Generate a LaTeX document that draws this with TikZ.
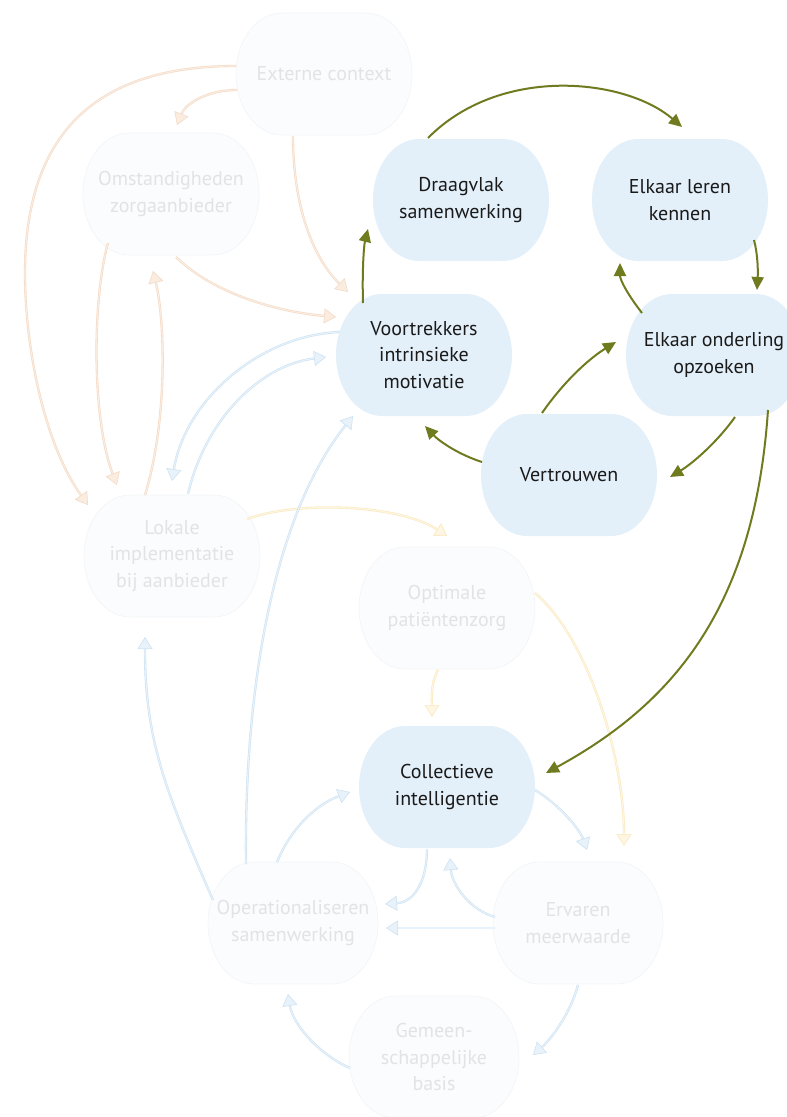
\documentclass[tikz,border=0pt]{standalone}
\usepackage{fontspec}
\setmainfont{PT Sans}
\usetikzlibrary{arrows.meta,calc}
\definecolor{grn}{RGB}{112,122,30}
\definecolor{nfill}{RGB}{227,240,249}
\definecolor{ntext}{RGB}{26,26,26}
\definecolor{ffill}{RGB}{251,252,254}
\definecolor{fdraw}{RGB}{241,244,248}
\definecolor{ftext}{RGB}{226,227,230}
\definecolor{oraO}{RGB}{243,218,198}
\definecolor{oraI}{RGB}{251,236,224}
\definecolor{bluO}{RGB}{205,226,242}
\definecolor{bluI}{RGB}{232,242,250}
\definecolor{yelO}{RGB}{250,232,190}
\definecolor{yelI}{RGB}{254,246,226}
\tikzset{
  box/.style={minimum width=176pt, minimum height=122pt,
    align=center, inner sep=0pt, font=\fontsize{20}{26.5}\selectfont},
  mainbox/.style={box, text=ntext},
  fadebox/.style={box, text=ftext},
  mainblob/.style={fill=nfill},
  fadeblob/.style={fill=ffill, draw=fdraw, line width=0.6pt},
  garr/.style={draw=grn, line width=2pt, -{Triangle[length=13pt,width=12pt]}},
  farr/.style={line width=0.6pt, double distance=1.1pt},
  oarr/.style={farr, draw=oraO, double=oraI, -{Triangle[length=12pt,width=15pt,fill=oraI]}},
  barr/.style={farr, draw=bluO, double=bluI, -{Triangle[length=12pt,width=15pt,fill=bluI]}},
  yarr/.style={farr, draw=yelO, double=yelI, -{Triangle[length=12pt,width=15pt,fill=yelI]}},
}
% rounded blob with elliptical corners: style, centre, half width
\newcommand\mkblob[3]{\path[#1] (#2) ++(-#3,0)
  arc[start angle=180,end angle=90,x radius=46,y radius=61] -- ++({2*#3-92},0)
  arc[start angle=90,end angle=0,x radius=46,y radius=61]
  arc[start angle=0,end angle=-90,x radius=46,y radius=61] -- ++({92-2*#3},0)
  arc[start angle=-90,end angle=-180,x radius=46,y radius=61] -- cycle;}
\begin{document}
\begin{tikzpicture}[x=1pt,y=-1pt]
\useasboundingbox (0,0) rectangle (787,1117);
% centres
\coordinate (cext) at (324,74);
\coordinate (coms) at (171,194);
\coordinate (clok) at (172,556);
\coordinate (copt) at (447,608);
\coordinate (cope) at (293,923);
\coordinate (cerv) at (578,923);
\coordinate (cgem) at (434,1057);
\coordinate (cdra) at (461,200);
\coordinate (celk) at (680,200);
\coordinate (cvoo) at (424,355);
\coordinate (cond) at (714,355);
\coordinate (cver) at (569,475);
\coordinate (ccol) at (447,787);
% shapes
\mkblob{fadeblob}{cext}{88}
\mkblob{fadeblob}{coms}{88}
\mkblob{fadeblob}{clok}{88}
\mkblob{fadeblob}{copt}{88}
\mkblob{fadeblob}{cope}{85}
\mkblob{fadeblob}{cerv}{85}
\mkblob{fadeblob}{cgem}{85}
\mkblob{mainblob}{cdra}{88}
\mkblob{mainblob}{celk}{88}
\mkblob{mainblob}{cvoo}{88}
\mkblob{mainblob}{cond}{88}
\mkblob{mainblob}{cver}{88}
\mkblob{mainblob}{ccol}{88}
% faded nodes
\node[fadebox] (ext) at (cext) {Externe context};
\node[fadebox] (oms) at (coms) {Omstandigheden\\zorgaanbieder};
\node[fadebox] (lok) at (clok) {Lokale\\implementatie\\bij aanbieder};
\node[fadebox] (opt) at (copt) {Optimale\\patiëntenzorg};
\node[fadebox, minimum width=170pt] (ope) at (cope) {Operationaliseren\\samenwerking};
\node[fadebox, minimum width=170pt] (erv) at (cerv) {Ervaren\\meerwaarde};
\node[fadebox, minimum width=170pt] (gem) at (cgem) {Gemeen-\\schappelijke\\basis};
% main nodes
\node[mainbox] (dra) at (cdra) {Draagvlak\\samenwerking};
\node[mainbox] (elk) at (celk) {Elkaar leren\\kennen};
\node[mainbox] (voo) at (cvoo) {Voortrekkers\\intrinsieke\\motivatie};
\node[mainbox] (ond) at (cond) {Elkaar onderling\\opzoeken};
\node[mainbox] (ver) at (cver) {Vertrouwen};
\node[mainbox] (col) at (ccol) {Collectieve\\intelligentie};

% orange faded connectors
\draw[oarr] ($(ext)+(-87,16)$) .. controls (205,90) and (185,105) .. ($(oms)+(6,-69)$);
\draw[oarr] ($(ext)+(-88,-8)$) .. controls (110,66) and (25,120) .. (25,273)
  .. controls (25,350) and (45,445) .. ($(lok)+(-84,-51)$);
\draw[oarr] ($(ext)+(-31,62)$) .. controls (293,200) and (310,255) .. ($(voo)+(-76,-63)$);
\draw[oarr] ($(oms)+(5,63)$) .. controls (215,295) and (280,312) .. ($(voo)+(-88,-38)$);
\draw[oarr] ($(oms)+(-63,49)$) .. controls (92,300) and (92,420) .. ($(lok)+(-55,-71)$);
\draw[oarr] ($(lok)+(-27,-61)$) .. controls (168,420) and (165,320) .. ($(oms)+(-18,77)$);

% yellow faded connectors
\draw[yarr] ($(lok)+(75,-37)$) .. controls (300,500) and (400,505) .. ($(opt)+(0,-72)$);
\draw[yarr] ($(opt)+(-9,62)$) .. controls (430,685) and (432,700) .. ($(col)+(-15,-70)$);
\draw[yarr] ($(opt)+(88,-15)$) .. controls (590,640) and (624,760) .. ($(erv)+(46,-77)$);

% blue faded connectors
\draw[barr] ($(voo)+(-84,-23)$) .. controls (260,335) and (185,400) .. ($(lok)+(0,-75)$);
\draw[barr] ($(lok)+(16,-62)$) .. controls (205,420) and (260,365) .. ($(voo)+(-98,2)$);
\draw[barr] ($(ope)+(-47,-59)$) .. controls (244,700) and (270,520) .. ($(voo)+(-71,61)$);
\draw[barr] ($(ope)+(-80,-23)$) .. controls (165,790) and (145,740) .. ($(lok)+(-27,81)$);
\draw[barr] ($(ope)+(-16,-61)$) .. controls (290,830) and (315,805) .. ($(col)+(-97,5)$);
\draw[barr] ($(col)+(-20,62)$) .. controls (427,880) and (415,902) .. ($(ope)+(92,-19)$);
\draw[barr] ($(erv)+(-83,5)$) -- ($(ope)+(93,5)$);
\draw[barr] ($(erv)+(-83,-6)$) .. controls (470,910) and (452,885) .. ($(col)+(3,71)$);
\draw[barr] ($(col)+(88,3)$) .. controls (560,805) and (580,830) .. ($(erv)+(9,-73)$);
\draw[barr] ($(erv)+(0,62)$) .. controls (570,1015) and (550,1040) .. ($(gem)+(99,-2)$);
\draw[barr] ($(gem)+(-84,11)$) .. controls (320,1055) and (293,1025) .. ($(ope)+(-5,71)$);

% green connectors
\draw[garr] ($(dra)+(-33,-62)$) .. controls (500,65) and (625,78) .. ($(elk)+(2,-73)$);
\draw[garr] ($(elk)+(74,40)$) .. controls (758,255) and (758,272) .. ($(ond)+(43,-65)$);
\draw[garr] ($(ond)+(-72,-42)$) .. controls (628,295) and (620,280) .. ($(elk)+(-60,63)$);
\draw[garr] ($(ver)+(-27,-62)$) .. controls (565,380) and (590,358) .. ($(ond)+(-98,-13)$);
\draw[garr] ($(ond)+(21,62)$) .. controls (715,445) and (690,465) .. ($(ver)+(101,2)$);
\draw[garr] ($(ver)+(-87,-13)$) .. controls (460,455) and (440,442) .. ($(voo)+(1,71)$);
\draw[garr] ($(voo)+(-61,-52)$) .. controls (362,270) and (364,245) .. ($(dra)+(-93,29)$);
\draw[garr] ($(ond)+(54,55)$) .. controls (755,600) and (680,700) .. ($(col)+(99,-14)$);
\end{tikzpicture}
\end{document}
